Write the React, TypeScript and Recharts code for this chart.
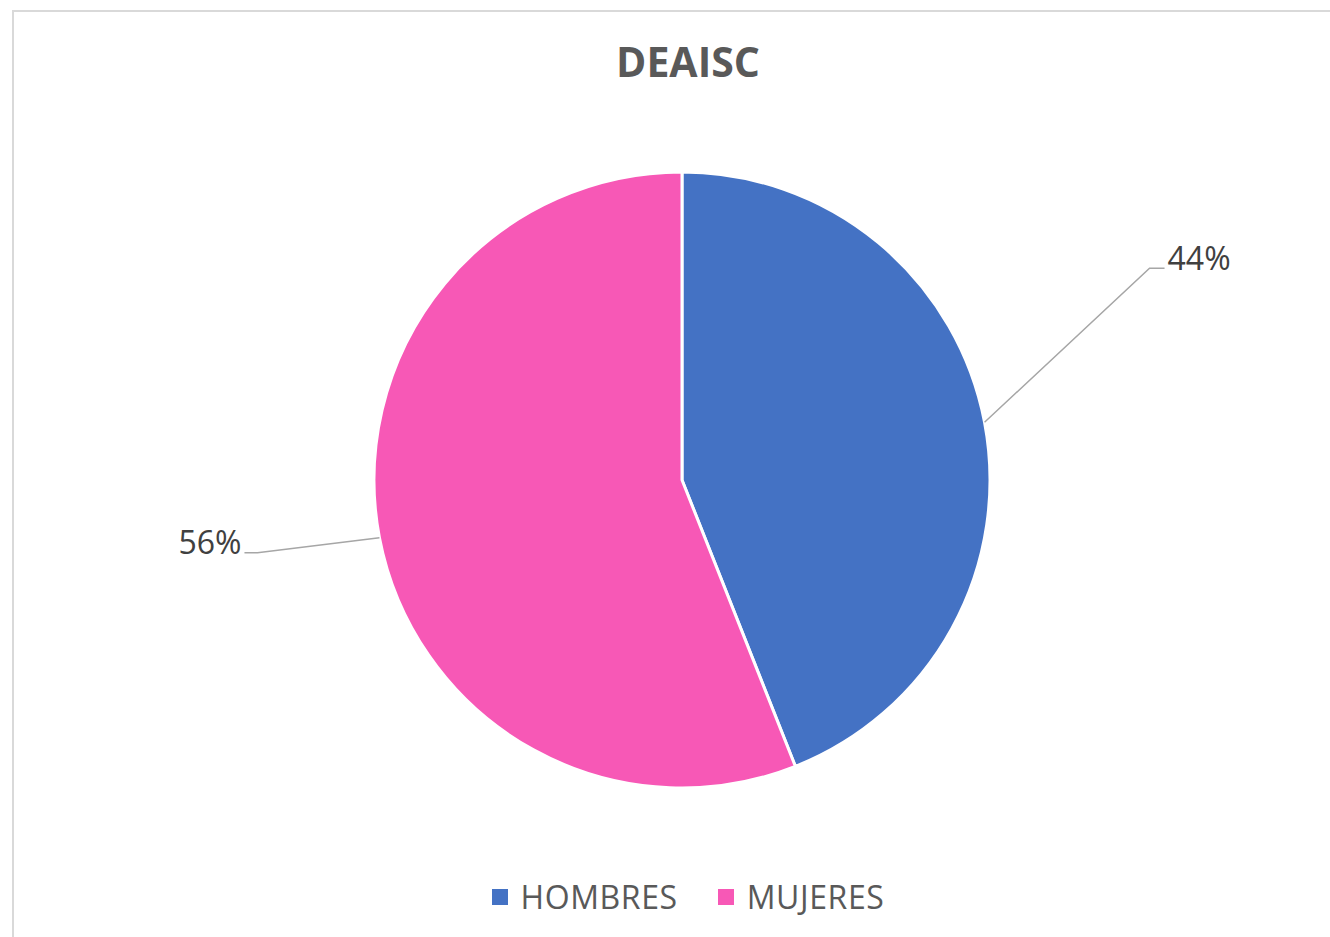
import React from "react";
import { PieChart, Pie, Cell, Legend } from "recharts";

const categories = ["HOMBRES", "MUJERES"];
const shares = [44, 56];
const colors = ["#4472C4", "#F758B6"];
// elbow of each leader line, relative to the slice edge point
const labelElbows = [
  [165, -154],
  [-122, 15],
];

const data = categories.map((name, i) => ({ name, value: shares[i] }));

const RAD = Math.PI / 180;
const TEXT_COLOR = "#595959";
const FONT = "'Open Sans', sans-serif";

function renderLabel(props: any) {
  const { cx, cy, midAngle, outerRadius, percent, index } = props;
  const sx = cx + outerRadius * Math.cos(-midAngle * RAD);
  const sy = cy + outerRadius * Math.sin(-midAngle * RAD);
  const [dx, dy] = labelElbows[index];
  const ex = sx + dx;
  const ey = sy + dy;
  const right = dx > 0;
  const hx = ex + (right ? 15 : -13);
  return (
    <g>
      <polyline
        points={`${sx},${sy} ${ex},${ey} ${hx},${ey}`}
        fill="none"
        stroke="#A6A6A6"
        strokeWidth={1.5}
      />
      <text
        x={hx + (right ? 3 : -3)}
        y={ey - 11}
        textAnchor={right ? "start" : "end"}
        dominantBaseline="central"
        fill="#404040"
        fontSize={32}
        fontFamily={FONT}
      >
        {`${Math.round(percent * 100)}%`}
      </text>
    </g>
  );
}

function LegendContent() {
  return (
    <div
      style={{
        display: "flex",
        justifyContent: "center",
        gap: 40,
        fontFamily: FONT,
        fontSize: 32,
        letterSpacing: 0.6,
        color: TEXT_COLOR,
      }}
    >
      {data.map((d, i) => (
        <div key={d.name} style={{ display: "flex", alignItems: "center" }}>
          <span
            style={{
              width: 16,
              height: 16,
              background: colors[i],
              display: "inline-block",
              marginRight: 13,
            }}
          />
          <span>{d.name}</span>
        </div>
      ))}
    </div>
  );
}

export default function App() {
  return (
    <div
      style={{
        position: "absolute",
        left: 0,
        top: 0,
        width: 1330,
        height: 937,
        overflow: "hidden",
        background: "#fff",
      }}
    >
      <div
        style={{
          position: "absolute",
          left: 12,
          top: 10,
          width: 1340,
          height: 950,
          border: "2px solid #D9D9D9",
        }}
      />
      <div
        style={{
          position: "absolute",
          left: 0,
          top: 34,
          width: 1376,
          textAlign: "center",
          fontFamily: FONT,
          fontWeight: 700,
          fontSize: 41,
          color: TEXT_COLOR,
          lineHeight: "54px",
        }}
      >
        DEAISC
      </div>
      <div style={{ position: "absolute", left: 0, top: 0 }}>
        <PieChart
          width={1330}
          height={937}
          margin={{ top: 0, right: 0, bottom: 0, left: 0 }}
        >
          <Pie
            data={data}
            dataKey="value"
            nameKey="name"
            cx={682}
            cy={480}
            outerRadius={308}
            startAngle={90}
            endAngle={-270}
            stroke="#fff"
            strokeWidth={3}
            label={renderLabel}
            labelLine={false}
            isAnimationActive={false}
          >
            {data.map((d, i) => (
              <Cell key={d.name} fill={colors[i]} />
            ))}
          </Pie>
          <Legend
            content={<LegendContent />}
            wrapperStyle={{ left: 0, top: 875, width: 1376 }}
          />
        </PieChart>
      </div>
    </div>
  );
}
